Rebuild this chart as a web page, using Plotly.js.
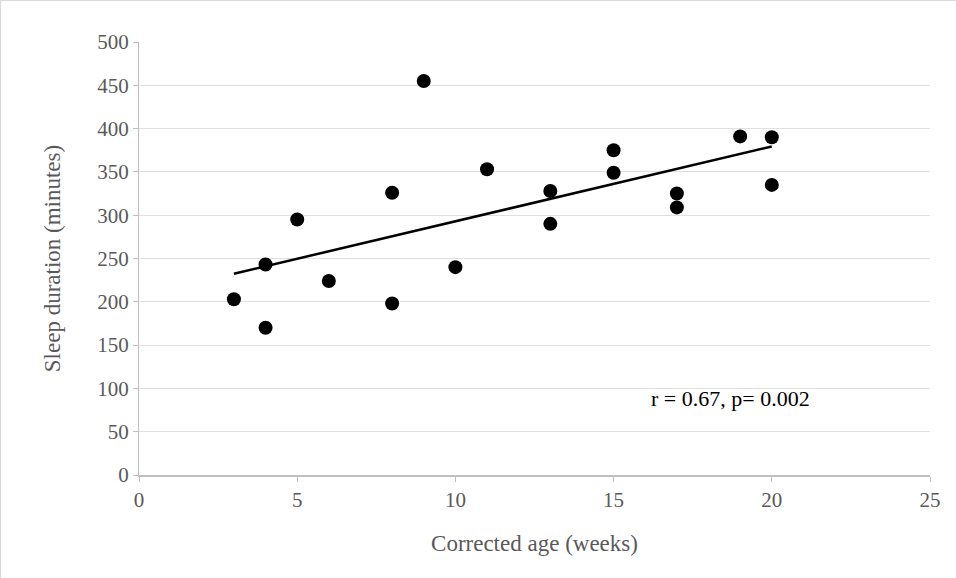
<!DOCTYPE html>
<html>
<head>
<script src="https://cdn.plot.ly/plotly-3.0.1.min.js"></script>
<style>body{margin:0}#chart{width:956px;height:578px;box-sizing:border-box;border:1px solid #d9d9d9}</style>
</head>
<body>
<div id="chart"></div>
<script>
var ageWeeks = [3, 4, 4, 5, 6, 8, 8, 9, 10, 11, 13, 13, 15, 15, 17, 17, 19, 20, 20];
var sleepMin = [203, 243, 170, 295, 224, 326, 198, 455, 240, 353, 328, 290, 375, 349, 325, 309, 391, 390, 335];
var statText = 'r = 0.67, p= 0.002';

// least squares trend line
var n = ageWeeks.length, sx = 0, sy = 0, sxx = 0, sxy = 0;
for (var i = 0; i < n; i++) {
  sx += ageWeeks[i]; sy += sleepMin[i];
  sxx += ageWeeks[i] * ageWeeks[i]; sxy += ageWeeks[i] * sleepMin[i];
}
var slope = (n * sxy - sx * sy) / (n * sxx - sx * sx);
var icept = (sy - slope * sx) / n;
var xMin = Math.min.apply(null, ageWeeks), xMax = Math.max.apply(null, ageWeeks);

var pts = {
  type: 'scatter', mode: 'markers', x: ageWeeks, y: sleepMin,
  marker: {color: '#000', size: 14}, hoverinfo: 'x+y'
};
var trend = {
  type: 'scatter', mode: 'lines', x: [xMin, xMax],
  y: [icept + slope * xMin, icept + slope * xMax],
  line: {color: '#000', width: 2.5}
};

var font = {family: 'Liberation Serif, Times New Roman, serif', size: 21, color: '#595959'};
var titleFont = {family: font.family, size: 23, color: '#595959'};
var layout = {
  width: 956, height: 578, showlegend: false,
  margin: {l: 138, r: 27, t: 41, b: 104},
  paper_bgcolor: 'white', plot_bgcolor: 'white', font: font,
  xaxis: {
    range: [0, 25], dtick: 5, showgrid: false, zeroline: false,
    showline: true, linecolor: '#bfbfbf', linewidth: 1.5, ticks: 'outside', ticklen: 5, tickcolor: '#bfbfbf',
    title: {text: 'Corrected age (weeks)', font: titleFont, standoff: 24}
  },
  yaxis: {
    range: [0, 500], dtick: 50, gridcolor: '#e0e0e0', zeroline: false,
    showline: true, linecolor: '#bfbfbf', ticks: 'outside', ticklen: 5, tickcolor: '#bfbfbf',
    title: {text: 'Sleep duration (minutes)', font: titleFont, standoff: 30}
  },
  annotations: [{
    x: 18.7, y: 88, xref: 'x', yref: 'y', text: statText, showarrow: false,
    font: {family: font.family, size: 22, color: '#000'}
  }]
};

Plotly.newPlot('chart', [trend, pts], layout, {displayModeBar: false});
</script>
</body>
</html>
